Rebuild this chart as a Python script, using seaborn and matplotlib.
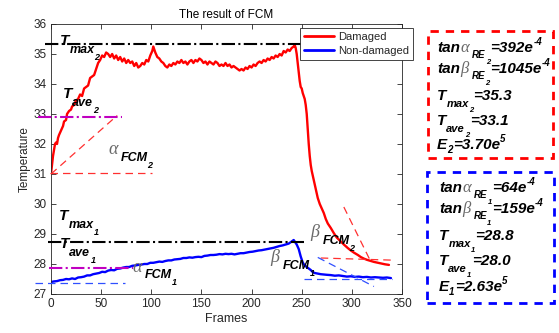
import matplotlib
matplotlib.use("Agg")
import pandas as pd
import seaborn as sns
from matplotlib import pyplot as plt
from matplotlib.patches import Rectangle

# damaged sample (red curve)
damaged_frames = [0, 1, 2, 3, 4, 5, 6, 7, 8, 10, 12, 13, 15, 16, 18, 20, 21, 23, 25, 27,
                  29, 31, 33, 35, 37, 39, 41, 43, 45, 47, 49, 51, 53, 55, 57, 59, 61, 63, 65, 67,
                  69, 71, 73, 75, 77, 79, 81, 83, 85, 87, 89, 91, 93, 95, 97, 99, 101, 102, 104, 106,
                  108, 110, 112, 114, 116, 118, 120, 122, 124, 126, 128, 130, 132, 134, 136, 138, 140, 142, 144, 146,
                  148, 150, 152, 154, 156, 158, 160, 162, 164, 166, 168, 170, 172, 174, 176, 178, 180, 182, 184, 186,
                  188, 190, 192, 194, 196, 198, 200, 202, 204, 206, 208, 210, 212, 214, 216, 218, 220, 222, 224, 226,
                  228, 230, 232, 234, 236, 238, 240, 242, 243, 244, 245, 246, 247, 248, 249, 250, 251, 252, 253, 254,
                  255, 256, 257, 258, 259, 260, 262, 264, 266, 268, 270, 272, 274, 276, 279, 282, 285, 289, 292, 296,
                  299, 302, 306, 309, 312, 315, 319, 322, 326, 329, 333, 337]
damaged_temp = [31.0, 31.3, 31.6, 31.8, 32.0, 32.05, 32.0, 32.2, 32.3, 32.45, 32.6, 32.75, 32.8, 33.0, 33.1, 33.15, 33.25, 33.3, 33.45, 33.5,
                33.65, 33.6, 33.85, 33.9, 33.95, 34.2, 34.25, 34.3, 34.5, 34.7, 34.8, 34.95, 34.9, 35.05, 35.0, 34.9, 35.0, 34.85, 34.95, 34.8,
                34.9, 34.75, 34.85, 34.7, 34.8, 34.7, 34.75, 34.6, 34.7, 34.55, 34.6, 34.7, 34.65, 34.8, 34.75, 34.95, 35.1, 35.25, 35.05, 34.9,
                34.85, 34.75, 34.7, 34.6, 34.55, 34.65, 34.6, 34.7, 34.65, 34.75, 34.7, 34.8, 34.7, 34.75, 34.65, 34.75, 34.8, 34.7, 34.8, 34.75,
                34.85, 34.8, 34.7, 34.75, 34.65, 34.75, 34.7, 34.65, 34.75, 34.7, 34.6, 34.65, 34.6, 34.7, 34.6, 34.65, 34.55, 34.6, 34.55, 34.5,
                34.45, 34.5, 34.45, 34.55, 34.5, 34.6, 34.55, 34.65, 34.6, 34.7, 34.75, 34.7, 34.8, 34.75, 34.85, 34.8, 34.9, 34.85, 34.95, 34.9,
                35.0, 34.95, 35.1, 35.05, 35.15, 35.1, 35.2, 35.25, 35.3, 35.2, 35.0, 34.7, 34.4, 34.1, 33.9, 33.85, 33.7, 33.6, 33.5, 33.3,
                33.0, 32.5, 32.0, 31.6, 31.3, 31.1, 30.8, 30.5, 30.2, 30.0, 29.85, 29.7, 29.5, 29.35, 29.2, 29.03, 28.88, 28.75, 28.65, 28.53,
                28.45, 28.38, 28.3, 28.23, 28.18, 28.14, 28.1, 28.07, 28.04, 28.02, 27.99, 27.97]

# non-damaged sample (blue curve)
nondamaged_frames = [0, 3, 6, 9, 12, 15, 18, 21, 24, 27, 30, 33, 36, 39, 42, 45, 48, 51, 54, 57,
                     60, 63, 66, 69, 72, 75, 78, 81, 84, 87, 90, 93, 96, 99, 102, 105, 108, 111, 114, 117,
                     120, 123, 126, 129, 132, 135, 138, 141, 144, 147, 150, 153, 156, 159, 162, 165, 168, 171, 174, 177,
                     180, 183, 186, 189, 192, 195, 198, 201, 204, 207, 210, 213, 216, 219, 222, 225, 228, 231, 234, 237,
                     240, 242, 243, 245, 247, 249, 251, 253, 255, 257, 259, 261, 263, 266, 269, 272, 275, 279, 283, 287,
                     291, 295, 299, 303, 307, 311, 315, 319, 323, 327, 331, 335, 339]
nondamaged_temp = [27.4, 27.42, 27.43, 27.46, 27.47, 27.5, 27.49, 27.52, 27.5, 27.55, 27.56, 27.58, 27.62, 27.62, 27.66, 27.68, 27.7, 27.74, 27.73, 27.78,
                   27.8, 27.79, 27.84, 27.85, 27.88, 27.9, 27.9, 27.94, 27.95, 27.97, 27.98, 28.0, 28.0, 28.04, 28.04, 28.06, 28.08, 28.07, 28.1, 28.12,
                   28.12, 28.15, 28.16, 28.17, 28.2, 28.2, 28.22, 28.21, 28.23, 28.24, 28.23, 28.27, 28.28, 28.3, 28.3, 28.31, 28.33, 28.32, 28.34, 28.33,
                   28.34, 28.32, 28.34, 28.36, 28.36, 28.38, 28.4, 28.41, 28.43, 28.45, 28.46, 28.48, 28.5, 28.52, 28.54, 28.57, 28.6, 28.62, 28.65, 28.68,
                   28.75, 28.8, 28.75, 28.65, 28.5, 28.25, 28.05, 27.95, 27.9, 27.85, 27.8, 27.73, 27.7, 27.68, 27.66, 27.65, 27.64, 27.63, 27.61, 27.62,
                   27.6, 27.58, 27.59, 27.57, 27.58, 27.56, 27.57, 27.55, 27.56, 27.55, 27.54, 27.55, 27.53]

# guide lines: name -> endpoints (x0, y0, x1, y1)
guide_names = ["tmax2", "tave2", "alpha2", "alpha2_base", "tmax1", "tave1", "alpha1_base",
               "beta2", "beta2_base", "beta1", "beta1_base"]
guide_x0 = [-6, -13, 0, -1, -3, -2, -16, 292, 269, 266, 252]
guide_y0 = [35.32, 32.91, 31.0, 31.05, 28.74, 27.88, 27.37, 29.9, 28.2, 28.22, 27.5]
guide_x1 = [257, 71, 66, 101, 252, 82, 74, 319, 339, 322, 340]
guide_y1 = [35.32, 32.91, 32.95, 31.05, 28.74, 27.88, 27.37, 28.07, 28.13, 27.25, 27.5]

box2_lines = ["tanα_RE_2=392e^-4", "tanβ_RE_2=1045e^-4", "T_max_2=35.3", "T_ave_2=33.1", "E_2=3.70e^5"]
box1_lines = ["tanα_RE_1=64e^-4", "tanβ_RE_1=159e^-4", "T_max_1=28.8", "T_ave_1=28.0", "E_1=2.63e^5"]

GUIDE_STYLE = {
    "tmax": dict(color="black", ls="-.", lw=1.5),
    "tave": dict(color="#c000c0", ls="-.", lw=1.5),
    "r": dict(color="#ff3030", ls=(0, (6, 4)), lw=0.9),
    "b": dict(color="#3050ff", ls=(0, (6, 4)), lw=0.9),
}


def guide_style(name):
    if name.startswith("tmax"):
        return GUIDE_STYLE["tmax"]
    if name.startswith("tave"):
        return GUIDE_STYLE["tave"]
    return GUIDE_STYLE["r"] if name.endswith("2") or "2_" in name else GUIDE_STYLE["b"]


def chain(ax, x, y, pieces, transform):
    """pieces: (text, size, dx_pt, dy_pt, greek)"""
    prev = None
    for s, size, dx, dy, greek in pieces:
        if greek:
            kw = dict(family=["Liberation Serif", "DejaVu Serif"], style="italic",
                      weight="normal", color="#6a6a6a")
        else:
            kw = dict(family=["Liberation Sans", "DejaVu Sans"], style="italic",
                      weight="bold", color="black")
        if prev is None:
            prev = ax.annotate(s, xy=(x, y), xycoords=transform, xytext=(dx, dy),
                               textcoords="offset points", va="baseline", ha="left",
                               fontsize=size, annotation_clip=False, **kw)
        else:
            prev = ax.annotate(s, xy=(1, y), xycoords=(prev, transform), xytext=(dx, dy),
                               textcoords="offset points", va="baseline", ha="left",
                               fontsize=size, annotation_clip=False, **kw)
    return prev


def box_pieces(line):
    # split the label strings above into styled pieces
    main, sub, subsub, sup = 11, 7, 5.5, 7
    if line.startswith("tan"):
        greek = line[3]
        rest = line[4:]                      # _RE_2=392e^-4
        idx = rest[4]
        value, power = rest[5:].split("^")
        return [("tan", main, 0, 0, False), (greek, main + 1, 0.5, 0, True),
                ("RE", sub, 2, -4.5, False), (idx, subsub, 0, -8.5, False),
                (value, main, 0.3, 0, False), (power, sup, 0, 5, False)]
    if line.startswith("T_"):
        name, value = line[2:].split("=")
        word, idx = name.split("_")
        return [("T", main, 0, 0, False), (word, sub + 1, 0, -5, False),
                (idx, subsub, 0, -8.5, False), ("=" + value, main, 0.3, 0, False)]
    # E_2=3.70e^5
    idx = line[2]
    value, power = line[3:].split("^")
    return [("E", main, 0, 0, False), (idx, sub, 0, -3, False),
            (value, main, 0.5, 0, False), (power, sup, 0, 5, False)]


def main():
    sns.set_style("ticks")
    plt.rcParams["font.family"] = ["Liberation Sans", "DejaVu Sans"]

    fig = plt.figure(figsize=(5.59, 3.33), dpi=100)
    ax = fig.add_axes([51 / 559, 1 - 294 / 333, 351 / 559, 270 / 333])

    df = pd.concat([
        pd.DataFrame({"Frames": damaged_frames, "Temperature": damaged_temp, "Condition": "Damaged"}),
        pd.DataFrame({"Frames": nondamaged_frames, "Temperature": nondamaged_temp, "Condition": "Non-damaged"}),
    ])

    for name, x0, y0, x1, y1 in zip(guide_names, guide_x0, guide_y0, guide_x1, guide_y1):
        ax.plot([x0, x1], [y0, y1], clip_on=False, zorder=3, **guide_style(name))

    sns.lineplot(data=df, x="Frames", y="Temperature", hue="Condition",
                 hue_order=["Damaged", "Non-damaged"],
                 palette={"Damaged": "#ff0000", "Non-damaged": "#0000ff"},
                 estimator=None, sort=False, linewidth=1.7, ax=ax, zorder=2)

    ax.set_xlim(0, 350)
    ax.set_ylim(27, 36)
    ax.set_xticks(range(0, 351, 50))
    ax.set_yticks(range(27, 37))
    ax.tick_params(direction="in", top=True, right=True, length=3.5, width=0.6,
                   labelsize=8.5, colors="#262626", pad=3)
    for sp in ax.spines.values():
        sp.set_color("#262626")
        sp.set_linewidth(0.6)
    ax.set_title("The result of FCM", fontsize=8.5, color="black", pad=4)
    ax.set_xlabel("Frames", fontsize=9, color="#262626", labelpad=2)
    ax.set_ylabel("Temperature", fontsize=8.5, color="#262626", labelpad=2)

    sns.move_legend(ax, "upper right", bbox_to_anchor=(1.031, 0.985), title=None,
                    frameon=True, fancybox=False, edgecolor="#262626", framealpha=1,
                    fontsize=8, handlelength=2.7, borderpad=0.35, labelspacing=0.35,
                    handletextpad=0.4, borderaxespad=0)
    leg = ax.get_legend()
    leg.get_frame().set_linewidth(0.6)
    for h in leg.legend_handles:
        h.set_linewidth(2)

    # annotations on the curves
    T = lambda w, i: [("T", 11, 0, 0, False), (w, 9, 0, -6, False), (i, 6.5, 0, -11, False)]
    chain(ax, 9, 35.3, T("max", "2"), ax.transData)
    chain(ax, 12, 33.53, T("ave", "2"), ax.transData)
    chain(ax, 8, 29.47, T("max", "1"), ax.transData)
    chain(ax, 9, 28.53, T("ave", "1"), ax.transData)
    F = lambda i: [("FCM", 9, 2, -5, False), (i, 6.5, 0, -10, False)]
    chain(ax, 57, 31.65, [("α", 13, 0, 0, True)] + F("2"), ax.transData)
    chain(ax, 81, 27.75, [("α", 13, 0, 0, True)] + F("1"), ax.transData)
    chain(ax, 219, 28.05, [("β", 13, 0, 0, True)] + F("1"), ax.transData)
    chain(ax, 259, 28.9, [("β", 13, 0, 0, True)] + F("2"), ax.transData)

    # parameter boxes on the right
    fig.add_artist(Rectangle((428 / 559, 1 - 158 / 333), 125 / 559, 127 / 333,
                             transform=fig.transFigure, fill=False, ec="#ff0000",
                             lw=2, ls=(0, (3, 2.5))))
    fig.add_artist(Rectangle((427 / 559, 1 - 303 / 333), 127 / 559, 131 / 333,
                             transform=fig.transFigure, fill=False, ec="#0000ff",
                             lw=2, ls=(0, (3, 2.5))))
    for line, ypx in zip(box2_lines, [52, 73, 100, 125, 149]):
        chain(ax, 437 / 559, 1 - ypx / 333, box_pieces(line), fig.transFigure)
    for line, ypx in zip(box1_lines, [192, 213, 240, 265, 291]):
        chain(ax, 439 / 559, 1 - ypx / 333, box_pieces(line), fig.transFigure)

    fig.savefig("out.png", dpi=100)
    plt.close(fig)


if __name__ == "__main__":
    main()
